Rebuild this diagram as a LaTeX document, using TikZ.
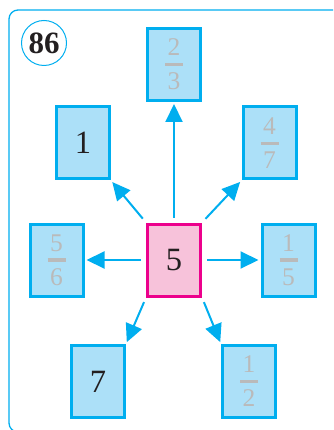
\documentclass[tikz,border=0pt]{standalone}
\usepackage{fontspec}
\setmainfont{Liberation Serif}
\usetikzlibrary{arrows.meta}

% stacked fraction with a thick bar
\newcommand{\fracval}[2]{%
  \vbox{\offinterlineskip\halign{\hfil##\hfil\cr
    #1\cr\noalign{\kern7pt}
    \rule{18pt}{3.5pt}\cr\noalign{\kern6.5pt}
    #2\cr}}}

\begin{document}
\begin{tikzpicture}[x=1pt, y=-1pt, >={Triangle[length=18pt, width=17pt]}]

        % Define colors of the worksheet
        \definecolor{cardcyan}{RGB}{0, 174, 239}
        \definecolor{cardfill}{RGB}{172, 224, 248}
        \definecolor{cardpink}{RGB}{247, 194, 218}
        \definecolor{cardmagenta}{RGB}{236, 0, 140}
        \definecolor{fracgray}{RGB}{186, 186, 186}
        \definecolor{inkblack}{RGB}{35, 31, 32}

        \tikzset{
            card/.style={draw=cardcyan, fill=cardfill, line width=3pt,
                minimum width=53pt, minimum height=72pt, inner sep=0pt},
            numtext/.style={text=inkblack, font=\fontsize{32.5}{32.5}\selectfont},
            fractext/.style={text=fracgray, font=\fontsize{25.5}{25.5}\selectfont},
            link/.style={->, cardcyan, line width=2pt, shorten <=5pt, shorten >=2pt}
        }

        % Page size and outer frame
        \useasboundingbox (0,0) rectangle (333,430);
        \clip (0,0) rectangle (333,430);
        \draw[cardcyan, line width=1.3pt, rounded corners=9pt] (9,10) rectangle (360,432);

        % Exercise number
        \node[draw=cardcyan, line width=1pt, circle, minimum size=45pt, inner sep=0pt,
            text=inkblack, font=\bfseries\fontsize{31}{31}\selectfont] (number) at (44,43) {86};

        % Centre card
        \node[card, draw=cardmagenta, fill=cardpink, numtext] (centre) at (174,260) {5};

        % Outer cards
        \node[card, fractext] (top) at (174,64.5) {\fracval{2}{3}};
        \node[card, numtext] (upleft) at (83,143) {1};
        \node[card, fractext] (upright) at (269.5,143) {\fracval{4}{7}};
        \node[card, fractext] (left) at (56.5,260) {\fracval{5}{6}};
        \node[card, fractext] (right) at (288.5,260) {\fracval{1}{5}};
        \node[card, numtext] (downleft) at (98,381.5) {7};
        \node[card, fractext] (downright) at (249,381.5) {\fracval{1}{2}};

        % Arrows from the centre card
        \foreach \from/\to in {north/top.south, north west/upleft.south east,
            north east/upright.south west, west/left.east, east/right.west,
            south west/downleft.north east, south east/downright.north west} {
            \draw[link] (centre.\from) -- (\to);
        }

    \end{tikzpicture}
\end{document}
